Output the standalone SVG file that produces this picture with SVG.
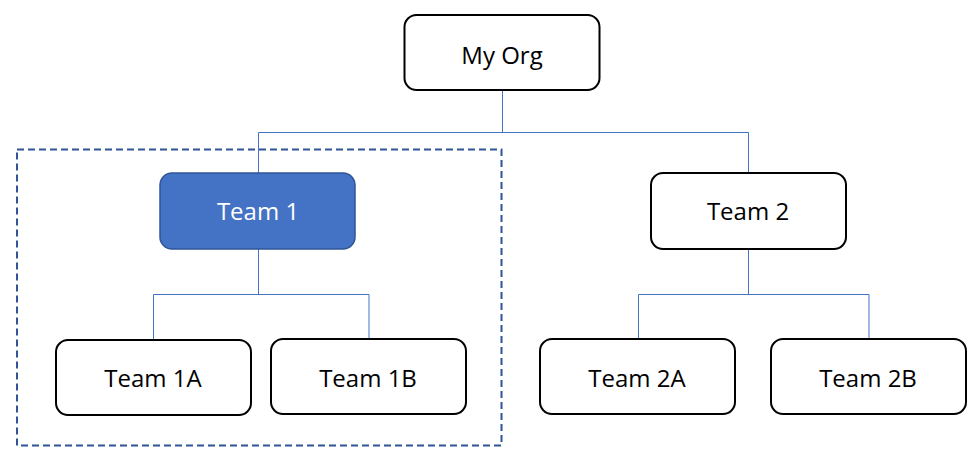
<svg xmlns="http://www.w3.org/2000/svg" width="978" height="458" viewBox="0 0 978 458">
<style>
.box{fill:#fff;stroke:#000;stroke-width:2}
.sel{fill:#4472C4;stroke:#2F5597;stroke-width:1.5}
.lbl{font-family:"Open Sans","Noto Sans","Liberation Sans",sans-serif;font-size:24px;fill:#000;text-anchor:middle}
.wl{fill:#fff}
.con{fill:none;stroke:#4472C4;stroke-width:1}
.grp{fill:none;stroke:#2F5597;stroke-width:2;stroke-dasharray:7 4}
</style>
<rect class="grp" x="17" y="149.5" width="484.5" height="296"/>
<g id="connectors">
<path class="con" d="M502.5 90V132.5M258.5 132.5H748.5M258.5 132.5V173M748.5 132.5V173"/>
<path class="con" d="M258.5 249V294.5M153.5 294.5H369M153.5 294.5V340M369 294.5V339"/>
<path class="con" d="M748.5 249V294.5M638.5 294.5H869M638.5 294.5V339M869 294.5V339"/>
</g>
<g id="myorg"><rect class="box" x="404.5" y="15" width="195" height="75" rx="12"/><text class="lbl" x="502" y="64">My Org</text></g>
<g id="team1"><rect class="sel" x="160" y="173" width="195" height="76" rx="12"/><text class="lbl wl" x="258" y="220">Team 1</text></g>
<g id="team2"><rect class="box" x="651" y="173" width="195" height="76" rx="12"/><text class="lbl" x="748" y="220">Team 2</text></g>
<g id="team1a"><rect class="box" x="56" y="340" width="195" height="75" rx="12"/><text class="lbl" x="153" y="387">Team 1A</text></g>
<g id="team1b"><rect class="box" x="271" y="339" width="195" height="75" rx="12"/><text class="lbl" x="368" y="387">Team 1B</text></g>
<g id="team2a"><rect class="box" x="540" y="339" width="195" height="75" rx="12"/><text class="lbl" x="637" y="387">Team 2A</text></g>
<g id="team2b"><rect class="box" x="771" y="339" width="195" height="75" rx="12"/><text class="lbl" x="868" y="387">Team 2B</text></g>
</svg>
